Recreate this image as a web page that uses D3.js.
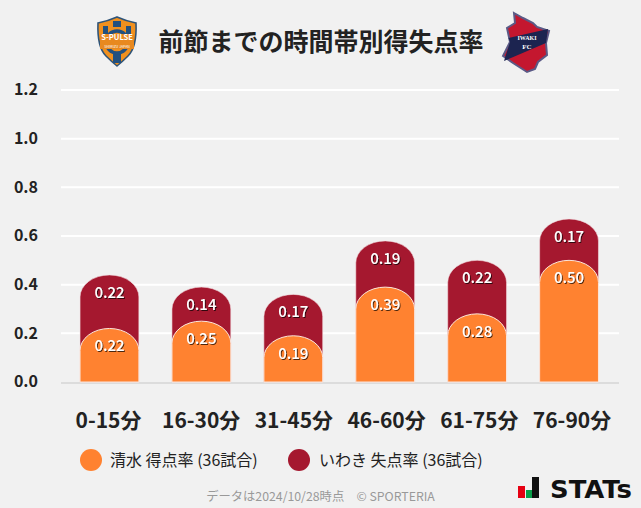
<!DOCTYPE html>
<html><head><meta charset="utf-8">
<script src="https://cdn.jsdelivr.net/npm/d3@7"></script>
<style>html,body{margin:0;padding:0;background:#f1f1f1}svg{display:block}text{font-family:"Noto Sans CJK JP","Noto Sans",sans-serif}</style>
</head><body><svg id="c" width="641" height="508"></svg>
<script>
const categories=["0-15分","16-30分","31-45分","46-60分","61-75分","76-90分"];
const shimizu=[0.22,0.25,0.19,0.39,0.28,0.50];
const iwaki=[0.22,0.14,0.17,0.19,0.22,0.17];
const yTicks=[0,0.2,0.4,0.6,0.8,1.0,1.2];
const title="前節までの時間帯別得失点率";
const legendLabels=["清水 得点率 (36試合)","いわき 失点率 (36試合)"];
const footer="データは2024/10/28時点　© SPORTERIA";
const orange="#ff8230",maroon="#a5182f";

const svg=d3.select("#c");
const x=d3.scaleBand().domain(categories).range([63.5,615]).paddingInner(0.36).paddingOuter(0.18);
const xLabels=d3.scalePoint().domain(categories).range([108,571.5]);
const y=d3.scaleLinear().domain([0,1.2]).range([382,90]);
const defs=svg.append("defs");
const f=defs.append("filter").attr("id","ts").attr("x","-20%").attr("y","-20%").attr("width","140%").attr("height","140%");
f.append("feDropShadow").attr("dx",1).attr("dy",1).attr("stdDeviation",0.5).attr("flood-color","#000").attr("flood-opacity",0.7);

// grid
const yAxis=d3.axisLeft(y).tickValues(yTicks).tickFormat(d3.format(".1f")).tickSize(0).tickPadding(0);
const ga=svg.append("g").attr("transform","translate(38,-1)").call(yAxis);
ga.select(".domain").remove();
ga.selectAll("text").attr("font-size",16).attr("font-weight",700).attr("fill","#222").attr("dy","0.36em");
svg.append("g").selectAll("line").data(yTicks.filter(d=>d>0)).join("line")
 .attr("x1",61).attr("x2",619).attr("y1",d=>y(d)).attr("y2",d=>y(d)).attr("stroke","#fff").attr("stroke-width",2);
svg.append("line").attr("x1",61).attr("x2",619).attr("y1",383).attr("y2",383).attr("stroke","#dcdcdc").attr("stroke-width",2);

function barPath(cx,w,top,bot){const l=cx-w/2,r=cx+w/2,ry=22,rx=w/2;
 return `M${l},${bot}V${top+ry}A${rx},${ry} 0 0 1 ${r},${top+ry}V${bot}Z`;}
const cx=d=>x(d)+x.bandwidth()/2;
const rows=categories.map((c,i)=>({c,a:shimizu[i],b:iwaki[i]}));
const g=svg.append("g");
g.selectAll("path.m").data(rows).join("path").attr("class","m")
 .attr("d",d=>barPath(cx(d.c),x.bandwidth(),y(d.a+d.b),y(0))).attr("fill",maroon).attr("stroke","#f3dfe3").attr("stroke-width",0.6);
g.selectAll("path.o").data(rows).join("path").attr("class","o")
 .attr("d",d=>barPath(cx(d.c),x.bandwidth(),y(d.a),y(0))).attr("fill",orange).attr("stroke","#fbe6dc").attr("stroke-width",1);
const lab=svg.append("g").attr("font-size",15).attr("font-weight",500).attr("fill","#fff").attr("text-anchor","middle").attr("filter","url(#ts)");
lab.selectAll("text.m").data(rows).join("text").attr("class","m").attr("x",d=>cx(d.c)).attr("y",d=>y(d.a+d.b)+23).text(d=>d.b.toFixed(2));
lab.selectAll("text.o").data(rows).join("text").attr("class","o").attr("x",d=>cx(d.c)).attr("y",d=>y(d.a)+23).text(d=>d.a.toFixed(2));

// x axis
const xa=svg.append("g").attr("transform","translate(0,420)").call(d3.axisBottom(xLabels).tickSize(0).tickPadding(0));
xa.select(".domain").remove();
xa.selectAll("text").attr("font-size",21).attr("font-weight",700).attr("fill","#222").attr("y",0).attr("dy","0.36em");

// title
svg.append("text").attr("x",321).attr("y",51).attr("text-anchor","middle").attr("font-size",25).attr("font-weight",700).attr("fill","#222").text(title);

// legend
const lx=[91,299];
const lg=svg.append("g").selectAll("g").data(legendLabels).join("g").attr("transform",(d,i)=>`translate(${lx[i]},460)`);
lg.append("circle").attr("r",11).attr("fill",(d,i)=>i?maroon:orange);
lg.append("text").attr("x",(d,i)=>i?20:19).attr("y",0).attr("dy","0.36em").attr("font-size",16).attr("fill","#222").text(d=>d);

// footer
svg.append("text").attr("x",320.5).attr("y",497).attr("dy","0.36em").attr("text-anchor","middle").attr("font-size",12.3).attr("fill","#999").text(footer);

// STATs logo
const st=svg.append("g");
st.append("path").attr("d","M518,486h7v12h-7z").attr("fill","#e60012");
st.append("path").attr("d","M526,490h6v8h-6z").attr("fill","#0a9e4a");
st.append("path").attr("d","M532,477h7v21h-7z").attr("fill","#111");
svg.append("text").attr("x",550).attr("y",498).attr("font-size",24).attr("font-weight",900).attr("fill","#111")
 .attr("style","font-family:'DejaVu Sans';font-weight:700").attr("textLength",82).attr("lengthAdjust","spacingAndGlyphs").text("STATs");

// Shimizu crest
const s=svg.append("g");
const shield="M98,23 Q108,21 117,17 Q126,21 136,23 Q137,47 128,56 Q122,62 117,66 Q112,62 106,56 Q97,47 98,23Z";
s.append("path").attr("d",shield).attr("fill","#f0901e").attr("stroke","#2f5478").attr("stroke-width",1.6);
s.append("path").attr("d","M113,21h8v6h-8zM103,26h5v8h-5zM126,26h5v8h-5zM113,52h8v11h-8z").attr("fill","#22507f");
s.append("circle").attr("cx",117).attr("cy",42).attr("r",11).attr("fill","none").attr("stroke","#22507f").attr("stroke-width",3.5);
s.append("rect").attr("x",100).attr("y",34).attr("width",34).attr("height",15).attr("fill","#e8891f");
s.append("text").attr("x",117).attr("y",40).attr("text-anchor","middle").attr("font-size",7.5).attr("font-weight",700).attr("fill","#fff").text("S-PULSE");
s.append("text").attr("x",117).attr("y",47.5).attr("text-anchor","middle").attr("font-size",3.5).attr("fill","#fff").text("SHIMIZU JAPAN");

// Iwaki crest
const i=svg.append("g");
const outline="M514,13 L523,18 L533,23 L537,27 L549,31 L546,43 L547,55 L538,62 L535,69 L527,72 L513,63 L503,56 L510,42 L507,28 L515,23Z";
i.append("path").attr("d",outline).attr("fill","#c4172f").attr("stroke","#5b5a86").attr("stroke-width",2);
i.append("path").attr("d","M508.5,38 L548,29 L546,43 L504,61 L510,42Z").attr("fill","#1c2450");
i.append("text").attr("x",527).attr("y",40).attr("text-anchor","middle").attr("font-size",6).attr("font-weight",700).attr("fill","#fff").attr("style","font-family:'Liberation Serif'").text("IWAKI");
i.append("text").attr("x",527).attr("y",49).attr("text-anchor","middle").attr("font-size",7).attr("font-weight",700).attr("fill","#fff").attr("style","font-family:'Liberation Serif'").text("FC");
</script></body></html>
